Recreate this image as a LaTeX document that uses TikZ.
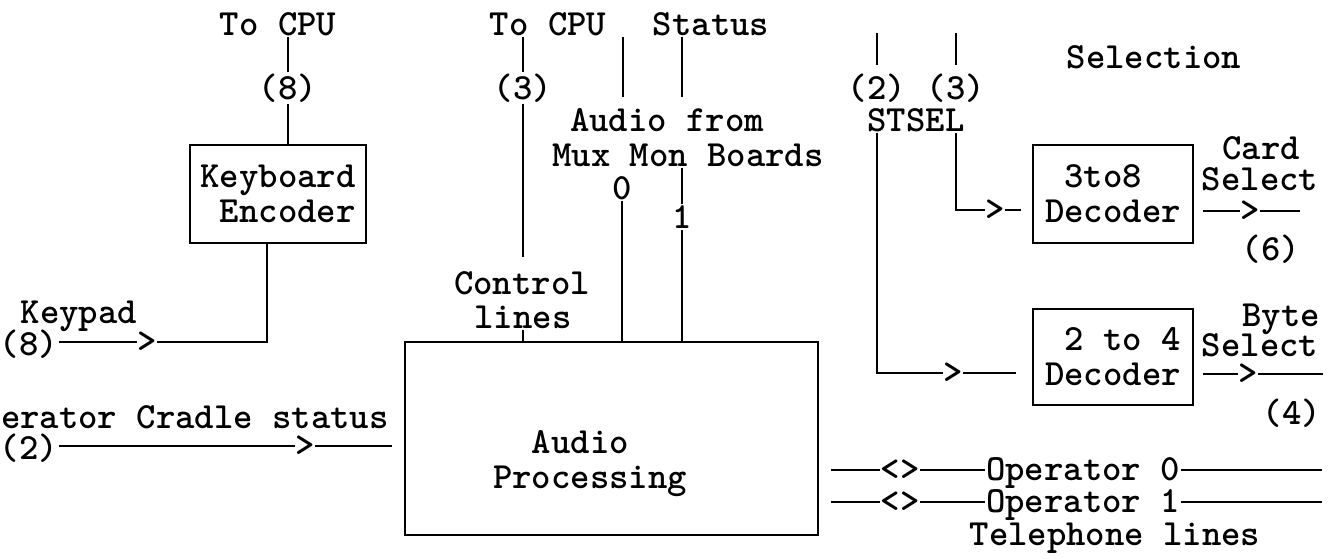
\documentclass[tikz,border=0pt]{standalone}
\usepackage{tikz}
\usetikzlibrary{positioning, calc}

\newcommand{\sigfont}{\ttfamily\bfseries\fontsize{21pt}{20pt}\selectfont}

\begin{document}
\begin{tikzpicture}[
    line width=0.6pt,
    lbl/.style={font=\sigfont, inner sep=0.5pt},
    tip/.style={font=\sigfont, inner sep=0pt},
    blk/.style={rectangle, draw, line width=0.8pt, font=\sigfont, inner sep=0pt}
]
\useasboundingbox (0,0) rectangle (26.66,-11.18);

% Blocks
\node[blk, minimum width=3.52cm, minimum height=1.96cm, align=right] (kbd) at (5.56,-3.88) {Keyboard\\Encoder};
\node[blk, minimum width=8.26cm, minimum height=3.86cm] (audio) at (12.23,-8.77) {};
\node[lbl, align=left] (audtxt) at (11.8,-9.27) {~~Audio\\Processing};
\node[blk, minimum width=3.2cm, minimum height=1.96cm, align=left] (dec38) at (22.26,-3.88) {~3to8\\Decoder};
\node[blk, minimum width=3.2cm, minimum height=1.92cm, align=right] (dec24) at (22.26,-7.14) {2 to 4\\Decoder};

% Keyboard side
\node[lbl] (cpua) at (5.56,-0.48) {To CPU};
\node[lbl] (n8) at (5.76,-1.76) {(8)};
\node[lbl] (kpd) at (1.58,-6.32) {Keypad};
\node[lbl] (kpn) at (0.58,-6.88) {(8)};
\node[tip] (kpa) at (2.94,-6.84) {>};
\node[lbl, anchor=east] (crd) at (7.8,-8.34) {erator Cradle status};
\node[lbl] (crn) at (0.58,-8.96) {(2)};
\node[tip] (cra) at (6.1,-8.92) {>};

% Control and audio inputs
\node[lbl] (cpub) at (10.96,-0.48) {To CPU};
\node[lbl] (stat) at (14.22,-0.48) {Status};
\node[lbl] (n3) at (10.46,-1.76) {(3)};
\node[lbl] (ctl) at (10.44,-5.66) {Control};
\node[lbl] (ctll) at (10.46,-6.34) {lines};
\node[lbl] (afr) at (13.34,-2.4) {Audio from};
\node[lbl] (mux) at (13.76,-3.1) {Mux Mon Boards};
\node[lbl] (m0) at (12.44,-3.76) {0};
\node[lbl] (m1) at (13.64,-4.34) {1};
\coordinate (a0) at (12.46,-0.74);
\coordinate (a1) at (13.64,-0.74);

% Selection
\node[lbl] (sel) at (23.08,-1.14) {Selection};
\node[lbl] (s2) at (17.54,-1.76) {(2)};
\node[lbl] (s3) at (19.12,-1.76) {(3)};
\node[lbl] (stsel) at (18.32,-2.4) {STSEL};
\coordinate (t2) at (17.54,-0.66);
\coordinate (t3) at (19.12,-0.66);
\node[tip] (d38a) at (19.9,-4.2) {>};
\node[tip] (d24a) at (19.06,-7.46) {>};
\node[lbl] (card) at (25.22,-2.96) {Card};
\node[lbl] (csel) at (25.2,-3.58) {Select};
\node[tip] (ca) at (25.0,-4.22) {>};
\coordinate (ce) at (26.0,-4.22);
\node[lbl] (c6) at (25.42,-4.98) {(6)};
\node[lbl] (byte) at (25.62,-6.38) {Byte};
\node[lbl] (bsel) at (25.2,-6.9) {Select};
\node[tip] (ba) at (24.96,-7.48) {>};
\coordinate (be) at (26.46,-7.48);
\node[lbl] (b4) at (25.84,-8.26) {(4)};

% Telephone lines
\node[tip] (lr0) at (18.0,-9.4) {<>};
\node[lbl] (op0) at (21.66,-9.46) {Operator 0};
\coordinate (e0) at (26.44,-9.4);
\node[tip] (lr1) at (18.0,-10.04) {<>};
\node[lbl] (op1) at (21.66,-10.1) {Operator 1};
\coordinate (e1) at (26.44,-10.04);
\node[lbl] (tel) at (22.3,-10.76) {Telephone lines};

% Connections
\draw (kbd.north -| n8) -- (n8.south);
\draw (n8.north) -- (n8.north |- cpua.south);
\draw (kpn.east |- kpa) -- (kpa.west);
\draw (kpa.east) -| ([xshift=-2.2mm]kbd.south);
\draw (crn.east |- cra) -- (cra.west);
\draw[shorten >=2.4mm] (cra.east) -- (cra.east -| audio.west);
\draw (n3.north) -- (n3.north |- cpub.south);
\draw[shorten >=2.5mm] (n3.south) -- (n3.south |- ctl.north);
\draw (ctll.south) -- (ctll.south |- audio.north);
\draw[shorten >=2mm] (a0) -- (a0 |- afr.north);
\draw[shorten >=2mm] (a1) -- (a1 |- afr.north);
\draw (m0.south) -- (m0.south |- audio.north);
\draw (m1.north) -- (m1.north |- mux.south);
\draw (m1.south) -- (m1.south |- audio.north);
\draw[shorten >=1.5mm] (t2) -- (s2.north);
\draw[shorten >=1.5mm] (t3) -- (s3.north);
\draw (s3.south |- stsel.south) |- (d38a.west);
\draw[shorten >=2.2mm] (d38a.east) -- (d38a.east -| dec38.west);
\draw (s2.south |- stsel.south) |- (d24a.west);
\draw[shorten >=3.2mm] (d24a.east) -- (d24a.east -| dec24.west);
\draw[shorten <=1.8mm] (dec38.east |- ca) -- (ca.west);
\draw (ca.east) -- (ce);
\draw[shorten <=1.8mm] (dec24.east |- ba) -- (ba.west);
\draw (ba.east) -- (be);
\draw[shorten <=2.4mm] (audio.east |- lr0) -- (lr0.west);
\draw (lr0.east) -- (lr0.east -| op0.west);
\draw (op0.east |- lr0) -- (e0);
\draw[shorten <=2.4mm] (audio.east |- lr1) -- (lr1.west);
\draw (lr1.east) -- (lr1.east -| op1.west);
\draw (op1.east |- lr1) -- (e1);
\end{tikzpicture}
\end{document}
